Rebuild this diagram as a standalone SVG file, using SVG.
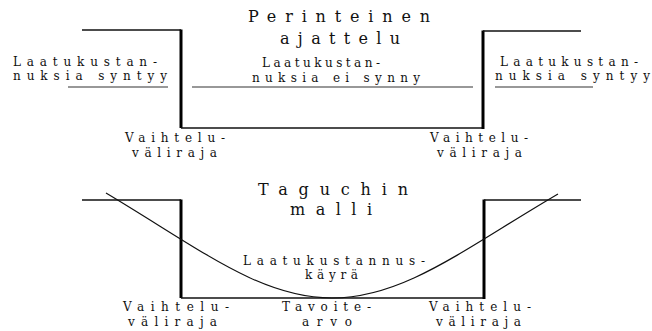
<svg xmlns="http://www.w3.org/2000/svg" width="652" height="331" viewBox="0 0 652 331">
<style>
text{font-family:"DejaVu Serif","Liberation Serif",serif;fill:#111}
.b{font-size:12px}
.t{font-size:16px}
.h{stroke:#111;stroke-width:1.5;fill:none}
.v{stroke:#000;stroke-width:3;fill:none}
.u{stroke:#333;stroke-width:1.2;fill:none}
.c{stroke:#111;stroke-width:1.2;fill:none}
</style>
<rect width="652" height="331" fill="#fff"/>
<g id="connectors">
  <line class="h" x1="82" y1="30" x2="181" y2="30"/>
  <line class="v" x1="181" y1="29.5" x2="181" y2="128"/>
  <line class="h" x1="181" y1="128" x2="483" y2="128" stroke-width="2"/>
  <line class="v" x1="483" y1="30.5" x2="483" y2="129"/>
  <line class="h" x1="483" y1="31" x2="581" y2="31"/>
  <line class="u" x1="68" y1="87" x2="168" y2="87"/>
  <line class="u" x1="192" y1="87" x2="473" y2="87"/>
  <line class="u" x1="495" y1="87" x2="593" y2="87"/>
  <line class="h" x1="82" y1="200" x2="181" y2="200"/>
  <line class="v" x1="181" y1="199.5" x2="181" y2="298"/>
  <line class="h" x1="181" y1="298" x2="484" y2="298" stroke-width="2"/>
  <line class="v" x1="484" y1="199.5" x2="484" y2="299"/>
  <line class="h" x1="484" y1="200" x2="581" y2="200"/>
  <path class="c" d="M106,193 C200,249 260,298 332,298 C404,298 464,249 558,194"/>
</g>
<g id="title-top">
  <text class="t" x="248" y="22" textLength="182" lengthAdjust="spacing">Perinteinen</text>
  <text class="t" x="280" y="44" textLength="120" lengthAdjust="spacing">ajattelu</text>
</g>
<g id="left-top">
  <text class="b" x="13" y="66" textLength="144" lengthAdjust="spacing">Laatukustan-</text>
  <text class="b" x="13" y="80" textLength="154" lengthAdjust="spacing">nuksia syntyy</text>
</g>
<g id="middle-top">
  <text class="b" x="262" y="67" textLength="118" lengthAdjust="spacing">Laatukustan-</text>
  <text class="b" x="252" y="82" textLength="168" lengthAdjust="spacing">nuksia ei synny</text>
</g>
<g id="right-top">
  <text class="b" x="500" y="66" textLength="138" lengthAdjust="spacing">Laatukustan-</text>
  <text class="b" x="495" y="80" textLength="155" lengthAdjust="spacing">nuksia syntyy</text>
</g>
<g id="limit-top-left">
  <text class="b" x="125" y="142" textLength="100" lengthAdjust="spacing">Vaihtelu-</text>
  <text class="b" x="132" y="157" textLength="85" lengthAdjust="spacing">väliraja</text>
</g>
<g id="limit-top-right">
  <text class="b" x="430" y="142" textLength="98" lengthAdjust="spacing">Vaihtelu-</text>
  <text class="b" x="437" y="157" textLength="85" lengthAdjust="spacing">väliraja</text>
</g>
<g id="title-bottom">
  <text class="t" x="258" y="195" textLength="150" lengthAdjust="spacing">Taguchin</text>
  <text class="t" x="290" y="215" textLength="82" lengthAdjust="spacing">malli</text>
</g>
<g id="curve-label">
  <text class="b" x="243" y="265" textLength="182" lengthAdjust="spacing">Laatukustannus-</text>
  <text class="b" x="305" y="279" textLength="53" lengthAdjust="spacing">käyrä</text>
</g>
<g id="limit-bottom-left">
  <text class="b" x="123" y="311" textLength="106" lengthAdjust="spacing">Vaihtelu-</text>
  <text class="b" x="128" y="326" textLength="89" lengthAdjust="spacing">väliraja</text>
</g>
<g id="target">
  <text class="b" x="282" y="311" textLength="89" lengthAdjust="spacing">Tavoite-</text>
  <text class="b" x="302" y="326" textLength="50" lengthAdjust="spacing">arvo</text>
</g>
<g id="limit-bottom-right">
  <text class="b" x="429" y="311" textLength="102" lengthAdjust="spacing">Vaihtelu-</text>
  <text class="b" x="436" y="326" textLength="85" lengthAdjust="spacing">väliraja</text>
</g>
</svg>
